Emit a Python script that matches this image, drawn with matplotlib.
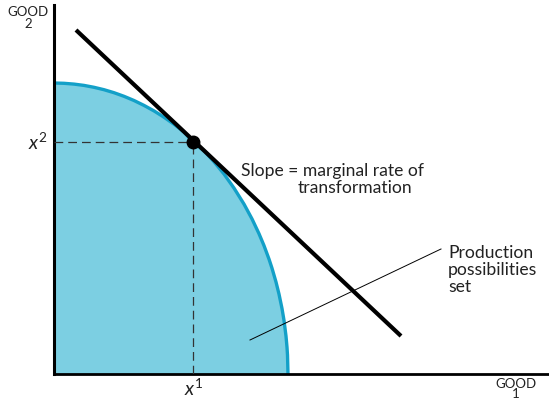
import matplotlib

matplotlib.use("Agg")
matplotlib.rcParams.update({
    "font.family": ["Lato", "DejaVu Sans"],
    "mathtext.fontset": "custom",
    "mathtext.it": "Lato:italic",
    "mathtext.rm": "Lato",
})

import matplotlib.pyplot as plt

# Production possibilities frontier (GOOD 1, GOOD 2)
frontier_x = [0, 10, 20, 30, 40, 50, 60, 70, 80, 90, 100, 110, 120, 130, 139,
              150, 160, 170, 180, 190, 198, 205, 210, 215, 218, 222, 225, 228,
              230, 232, 233, 233.5, 234]
frontier_y = [291, 290.7, 289.9, 288.6, 286.7, 284.3, 281.3, 277.7, 273.5,
              268.6, 263.1, 256.8, 249.8, 242.0, 232, 223.3, 212.3, 200.0,
              185.9, 169.9, 155.1, 140.3, 128.4, 114.9, 105.8, 92.0, 79.9,
              65.5, 53.6, 37.9, 26.8, 19.0, 0]

# tangent point (x1, x2) and the price line through it
tangent_pt = (139, 232)
price_line_x = [22, 347]
price_line_y = [344, 38]

# leader line for the "Production possibilities set" label
leader_x = [196, 387]
leader_y = [34, 125]

W, H = 549, 399
ORIGIN_PX = (54, 374)   # axis origin in image pixels
TOP_PX = 5

LINE_BLUE = "#13a0c8"
FILL_BLUE = "#7ccfe2"

fig = plt.figure(figsize=(W / 100, H / 100), dpi=100)
ax = fig.add_axes([ORIGIN_PX[0] / W, (H - ORIGIN_PX[1]) / H,
                   (W - ORIGIN_PX[0]) / W, (ORIGIN_PX[1] - TOP_PX) / H])
ax.set_xlim(0, W - ORIGIN_PX[0])
ax.set_ylim(0, ORIGIN_PX[1] - TOP_PX)

ax.fill_between(frontier_x, frontier_y, 0, color=FILL_BLUE, lw=0, zorder=1)
ax.plot(frontier_x, frontier_y, color=LINE_BLUE, lw=2.4, zorder=2,
        solid_joinstyle="round")

x1, x2 = tangent_pt
ax.plot([0, x1], [x2, x2], color="#333333", lw=0.9, ls=(0, (7, 4)), zorder=3)
ax.plot([x1, x1], [0, x2], color="#333333", lw=0.9, ls=(0, (7, 4)), zorder=3)

ax.plot(price_line_x, price_line_y, color="black", lw=3.0, zorder=4,
        solid_capstyle="butt")
ax.plot([x1], [x2], "o", color="black", ms=9, zorder=5)

ax.plot(leader_x, leader_y, color="black", lw=0.7, zorder=4)

for s in ("top", "right"):
    ax.spines[s].set_visible(False)
ax.spines["left"].set_linewidth(2.2)
ax.spines["bottom"].set_linewidth(2.0)
ax.set_xticks([])
ax.set_yticks([])
ax.patch.set_alpha(0)

kw = dict(clip_on=False, color="#222222")
ax.text(-6, x2, r"$x^2$", ha="right", va="center", fontsize=14, **kw)
ax.text(x1 + 1, -14, r"$x^1$", ha="center", va="center", fontsize=14, **kw)
ax.text(-26, 356, "GOOD\n2", ha="center", va="center", fontsize=9.5,
        linespacing=1.0, **kw)
ax.text(462, -15, "GOOD\n1", ha="center", va="center", fontsize=9.5,
        linespacing=0.85, **kw)

ax.text(187, 203, "Slope = marginal rate of", ha="left", va="center",
        fontsize=12.6, **kw)
ax.text(244, 186, "transformation", ha="left", va="center", fontsize=12.6, **kw)
ax.text(394, 104, "Production\npossibilities\nset", ha="left", va="center",
        fontsize=12.6, linespacing=1.08, **kw)

fig.savefig("out.png", dpi=100)
